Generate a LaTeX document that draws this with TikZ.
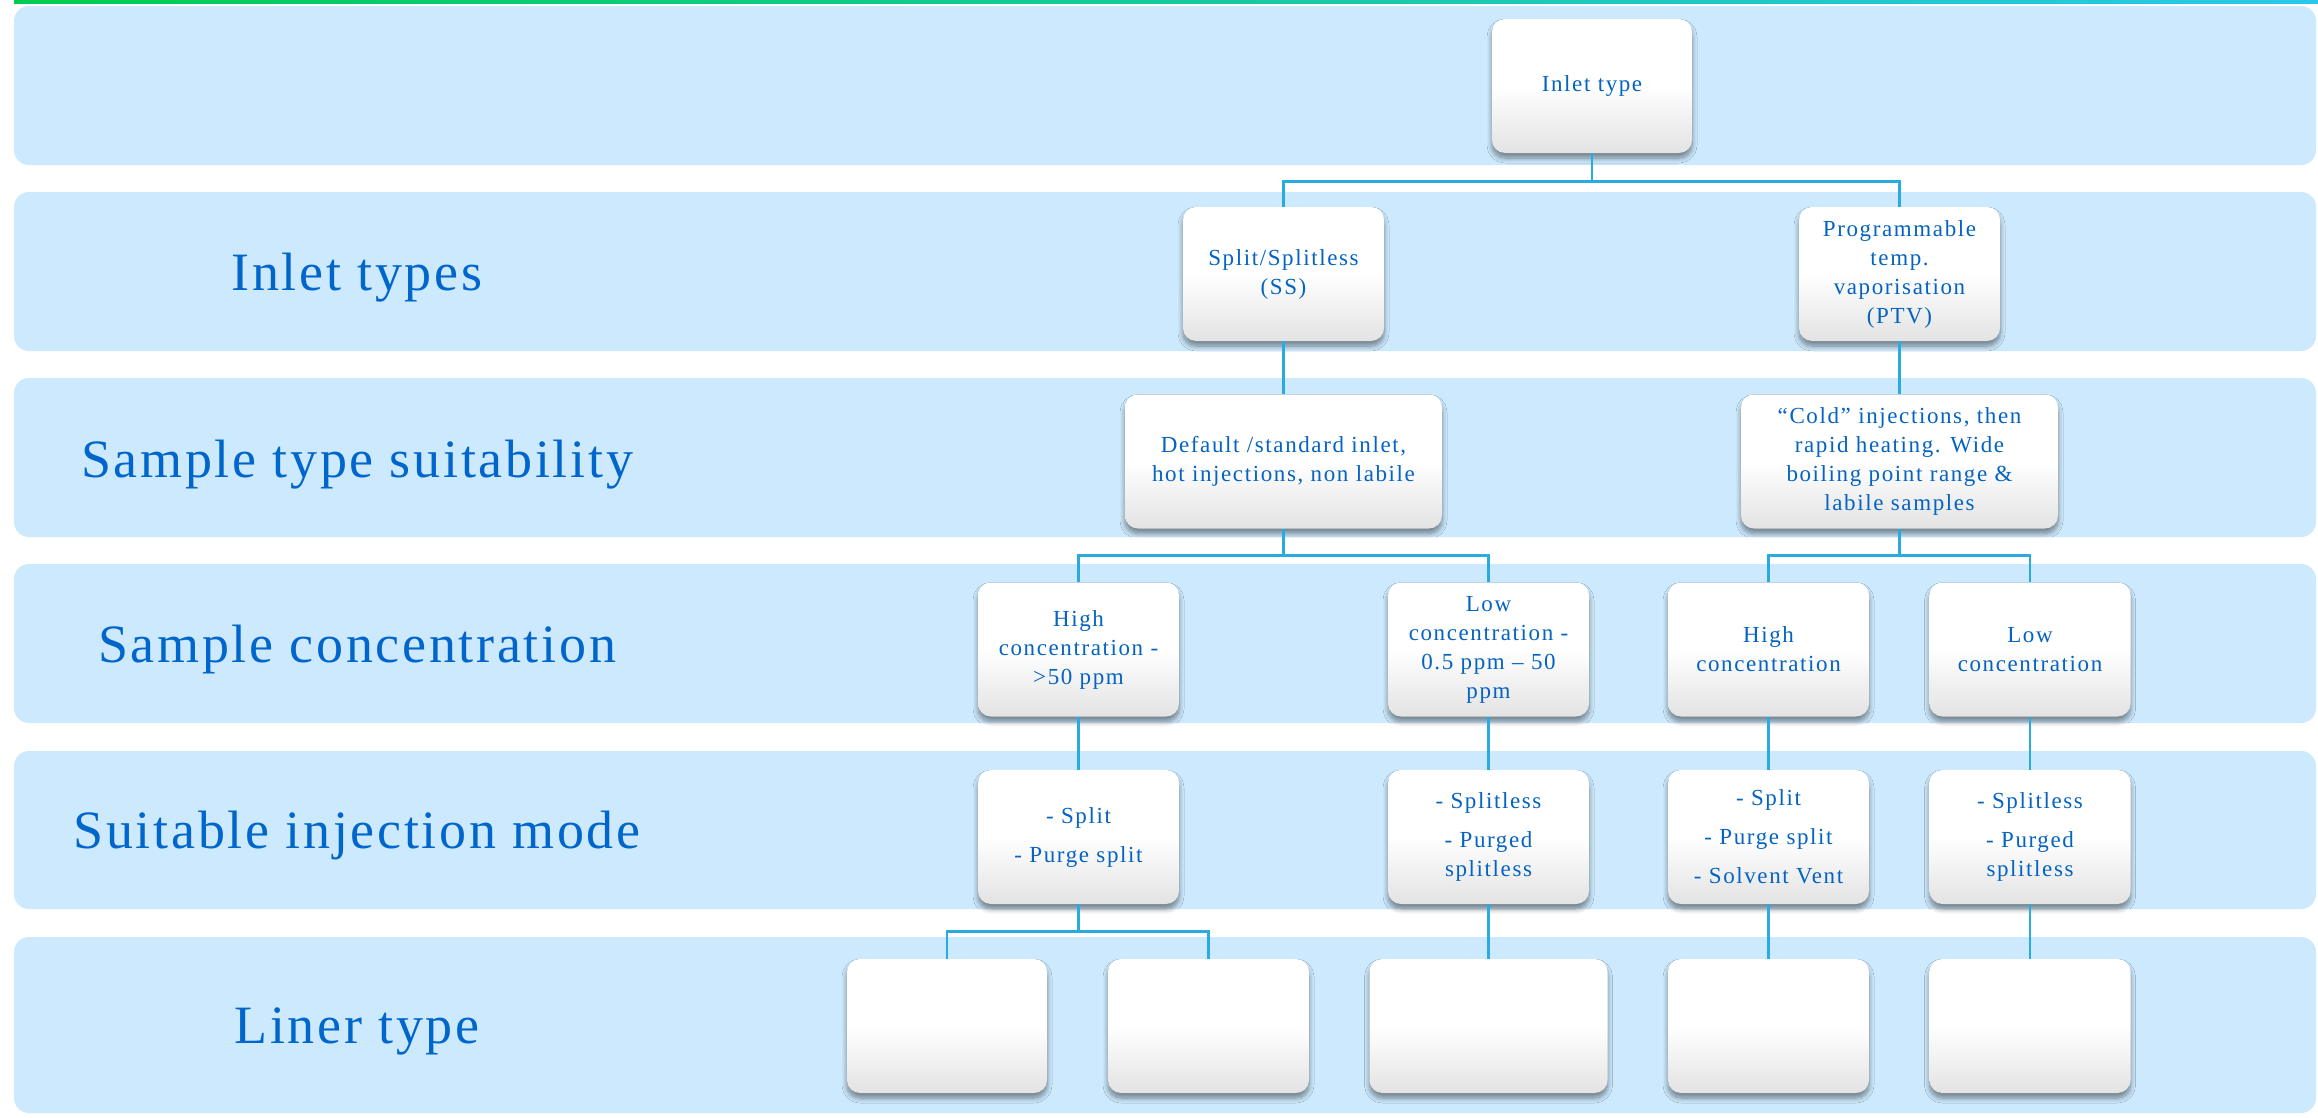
\documentclass[tikz,border=0pt]{standalone}
\usepackage{fontspec}
\setmainfont{Liberation Serif}
\newfontfamily\boxfont[LetterSpace=7]{Liberation Serif}
\newfontfamily\lblfont[LetterSpace=5]{Liberation Serif}
\usetikzlibrary{shadows.blur}
\definecolor{bandfill}{RGB}{205,233,253}
\definecolor{txtc}{RGB}{5,99,193}
\definecolor{lblc}{RGB}{0,102,204}
\definecolor{connc}{RGB}{41,171,226}
\definecolor{gA}{RGB}{0,205,80}
\definecolor{gB}{RGB}{40,200,235}
\begin{document}
\begin{tikzpicture}[x=1pt,y=-1pt,
  band/.style={fill=bandfill, rounded corners=15pt},
  lbl/.style={text=lblc, font=\lblfont\fontsize{54}{60}\selectfont, anchor=base, inner sep=0pt},
  box/.style={rounded corners=13pt, minimum height=134pt, minimum width=#1, inner sep=2pt,
    align=center, text=txtc, font=\boxfont\fontsize{23}{29}\selectfont,
    top color=white, bottom color=black!11, middle color=white,
    blur shadow={shadow xshift=0pt, shadow yshift=-5pt, shadow blur radius=5pt,
      shadow blur steps=8, shadow opacity=45}},
  box/.default=201pt,
  link/.style={draw=connc, line width=2.6pt}
]
\useasboundingbox (0,0) rectangle (2318,1117);
% top gradient rule
\shade[left color=gA, right color=gB] (14,0) rectangle (2318,3.5);
% bands
\fill[band] (14,6) rectangle (2316,165);
\fill[band] (14,192) rectangle (2316,351);
\fill[band] (14,378) rectangle (2316,537);
\fill[band] (14,564) rectangle (2316,723);
\fill[band] (14,751) rectangle (2316,909);
\fill[band] (14,937) rectangle (2316,1113);
% row labels
\node[lbl] (L2) at (357,290) {Inlet types};
\node[lbl] (L3) at (357,477) {Sample type suitability};
\node[lbl] (L4) at (357,662) {Sample concentration};
\node[lbl] (L5) at (357,848) {Suitable injection mode};
\node[lbl] (L6) at (357,1043) {Liner type};
% coordinates of boxes (nodes defined after links via path picture order)
\path (1592,86) coordinate (pInlet)
      (1283.5,274) coordinate (pSS) (1899.5,274) coordinate (pPTV)
      (1283.5,461.5) coordinate (pDef) (1899.5,461.5) coordinate (pCold);
% boxes
\node[box=200pt] (inlet) at (1592,86) {Inlet type};
\node[box] (ss) at (1283.5,274) {Split/Splitless\\(SS)};
\node[box] (ptv) at (1899.5,274) {Programmable\\temp.\\vaporisation\\(PTV)};
\node[box=317pt] (def) at (1283.5,461.5) {Default /standard inlet,\\hot injections, non labile};
\node[box=317pt] (cold) at (1899.5,461.5) {“Cold” injections, then\\rapid heating. Wide\\boiling point range \&\\labile samples};
\node[box] (hiA) at (1078.5,649.5) {High\\concentration -\\>50 ppm};
\node[box] (loA) at (1488.5,649.5) {Low\\concentration -\\0.5 ppm – 50\\ppm};
\node[box] (hiB) at (1768.5,649.5) {High\\concentration};
\node[box] (loB) at (2030,649.5) {Low\\concentration};
\node[box] (mA) at (1078.5,837) {- Split\\[10pt]- Purge split};
\node[box] (mB) at (1488.5,837) {- Splitless\\[10pt]- Purged\\splitless};
\node[box] (mC) at (1768.5,837) {- Split\\[10pt]- Purge split\\[10pt]- Solvent Vent};
\node[box] (mD) at (2030,837) {- Splitless\\[10pt]- Purged\\splitless};
\node[box=200pt] (lA) at (947,1026) {};
\node[box] (lB) at (1208.5,1026) {};
\node[box=238pt] (lC) at (1488.5,1026) {};
\node[box] (lD) at (1768.5,1026) {};
\node[box] (lE) at (2030,1026) {};
% connectors
\draw[link] (inlet.south) -- ++(0,28) -| (ss.north);
\draw[link] (inlet.south) -- ++(0,28) -| (ptv.north);
\draw[link] (ss.south) -- (def.north);
\draw[link] (ptv.south) -- (cold.north);
\draw[link] (def.south) -- ++(0,27) -| (hiA.north);
\draw[link] (def.south) -- ++(0,27) -| (loA.north);
\draw[link] (cold.south) -- ++(0,27) -| (hiB.north);
\draw[link] (cold.south) -- ++(0,27) -| (loB.north);
\draw[link] (hiA.south) -- (mA.north);
\draw[link] (loA.south) -- (mB.north);
\draw[link] (hiB.south) -- (mC.north);
\draw[link] (loB.south) -- (mD.north);
\draw[link] (mA.south) -- ++(0,27) -| (lA.north);
\draw[link] (mA.south) -- ++(0,27) -| (lB.north);
\draw[link] (mB.south) -- (lC.north);
\draw[link] (mC.south) -- (lD.north);
\draw[link] (mD.south) -- (lE.north);
\end{tikzpicture}
\end{document}
